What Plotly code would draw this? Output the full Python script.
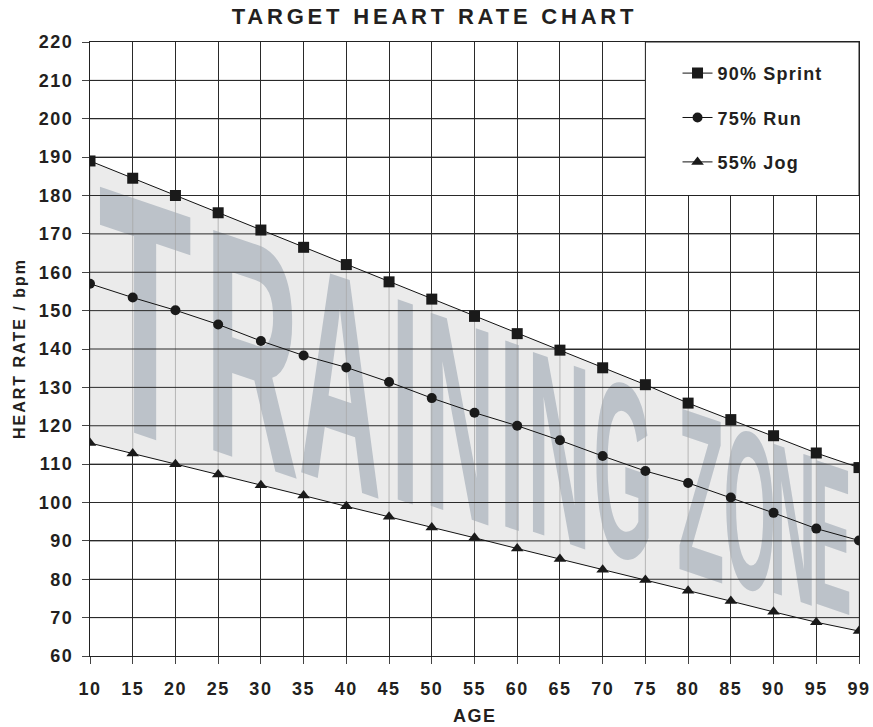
import json
import plotly.graph_objects as go

# ---------------- data ----------------
ages = [10, 15, 20, 25, 30, 35, 40, 45, 50, 55, 60, 65, 70, 75, 80, 85, 90, 95, 99]
sprint_90 = [189, 184.5, 180, 175.5, 171, 166.5, 162, 157.5, 153, 148.5, 144, 139.7, 135.1, 130.7, 125.9, 121.6, 117.4, 112.9, 109.1]
run_75 = [157, 153.4, 150.1, 146.4, 142.1, 138.3, 135.2, 131.4, 127.2, 123.4, 120, 116.2, 112.1, 108.2, 105.1, 101.3, 97.3, 93.2, 90.1]
jog_55 = [115.5, 112.8, 110, 107.3, 104.5, 101.8, 99, 96.3, 93.5, 90.8, 88, 85.3, 82.5, 79.8, 77, 74.3, 71.5, 68.8, 66.5]
y_ticks = [60, 70, 80, 90, 100, 110, 120, 130, 140, 150, 160, 170, 180, 190, 200, 210, 220]
series_names = ["90% Sprint", "75% Run", "55% Jog"]
title_text = "TARGET HEART RATE CHART"
x_title = "AGE"
y_title = "HEART RATE / bpm"
watermark = ["T", "R", "A", "I", "N", "I", "N", "G", "Z", "O", "N", "E"]

# ---------------- style / layout ----------------
W, H = 873, 727
ML, MR, MT = 90, 14, 42
PLOT_W, PLOT_H = 769, 614
MB = H - MT - PLOT_H
YMIN, YMAX = 60, 220
ppu = PLOT_H / (YMAX - YMIN)
INK = "#231f20"
FONT = "Liberation Sans, Arial, sans-serif"


def spaced(s, ls):
    return '<span style="letter-spacing:%spx">%s</span>' % (ls, s)


xs = list(range(len(ages)))
xmax = xs[-1]

# watermark letter layout (decoration): centre positions along the axis,
# fitted into a warped envelope inside the zone
wm_centres = [1.29, 3.79, 5.85, 7.38, 8.65, 9.88, 10.98, 12.48, 14.30, 15.44, 16.45, 17.37]
wm_squeeze = [0.45, 0.41, 0.38, 0.36, 0.35, 0.35, 0.34, 0.31, 0.33, 0.30, 0.30, 0.28]
WM_SHEAR = 0.34


def env_top(i):
    return 185.5 + (109.6 - 185.5) * (i - 0.2) / (17.73 - 0.2)


def env_bot(i):
    return 117.0 + (71.2 - 117.0) * (i - 1.35) / (17.73 - 1.35)


wm_y, wm_size = [], []
for c in wm_centres:
    t, b = env_top(c), env_bot(c)
    hpx = (t - b) * ppu
    fs = hpx / 0.716
    wm_size.append(fs)
    wm_y.append((t + b) / 2 - 0.108 * fs / ppu)

fig = go.Figure()

# training zone fill
fig.add_trace(go.Scatter(
    x=xs + xs[::-1], y=sprint_90 + jog_55[::-1],
    fill="toself", fillcolor="#ebebeb", mode="lines",
    line=dict(width=0), hoverinfo="skip", showlegend=False))

# watermark text
fig.add_trace(go.Scatter(
    x=wm_centres, y=wm_y, mode="text", text=watermark,
    textposition="middle center",
    textfont=dict(family=FONT, size=wm_size, color="#bcc2c9", weight="bold"),
    hoverinfo="skip", showlegend=False))

# faint vertical lines inside the zone
vx, vy = [], []
for i in xs:
    vx += [i, i, None]
    vy += [jog_55[i], sprint_90[i], None]
fig.add_trace(go.Scatter(x=vx, y=vy, mode="lines",
                         line=dict(color="#a8a8a8", width=0.8),
                         hoverinfo="skip", showlegend=False))

# horizontal grid drawn over the zone
hx, hy = [], []
for v in y_ticks[1:-1]:
    hx += [0, xmax, None]
    hy += [v, v, None]
fig.add_trace(go.Scatter(x=hx, y=hy, mode="lines",
                         line=dict(color="#2a2a2a", width=1),
                         hoverinfo="skip", showlegend=False))

symbols = ["square", "circle", "triangle-up"]
sizes = [11, 10, 11]
for k, (name, vals) in enumerate(zip(series_names, [sprint_90, run_75, jog_55])):
    fig.add_trace(go.Scatter(
        x=xs, y=vals, mode="lines+markers", name=spaced(name, 1.2),
        legendgroup="g%d" % k,
        line=dict(color="#111", width=1),
        marker=dict(symbol=symbols[k], size=sizes[k], color="#1a1a1a",
                    line=dict(width=0))))

# white legend box over the grid
fig.add_shape(type="rect", xref="x", yref="y",
              x0=ages.index(75), x1=xmax, y0=180, y1=YMAX,
              fillcolor="white", line=dict(color="#222", width=1), layer="above")

axis_common = dict(showgrid=True, gridcolor="#2a2a2a", gridwidth=1,
                   showline=True, mirror=True, linecolor="#222", linewidth=1,
                   ticks="outside", ticklen=7, tickcolor="#444", zeroline=False,
                   automargin=False,
                   tickfont=dict(family=FONT, size=18, color=INK, weight="bold"))

fig.update_layout(
    width=W, height=H, margin=dict(l=ML, r=MR, t=MT, b=MB, autoexpand=False),
    paper_bgcolor="white", plot_bgcolor="white",
    title=dict(text=spaced(title_text, 3.8), x=434.5 / W, xanchor="center",
               y=1 - 16.7 / H, yanchor="middle",
               font=dict(family=FONT, size=22, color=INK, weight="bold")),
    xaxis=dict(range=[0, xmax], tickvals=xs,
               ticktext=[spaced(str(a), 1.5) for a in ages],
               ticklabelstandoff=9, **axis_common),
    yaxis=dict(range=[YMIN, YMAX], tickvals=y_ticks,
               ticktext=[spaced(str(v), 1.5) for v in y_ticks],
               ticklabelstandoff=5, **axis_common),
    legend=dict(x=0.764, y=0.979, xanchor="left", yanchor="top",
                bgcolor="rgba(0,0,0,0)", borderwidth=0,
                traceorder="grouped", tracegroupgap=18,
                font=dict(family=FONT, size=18, color=INK, weight="bold")),
    showlegend=True,
    annotations=[
        dict(text=spaced(x_title, 1.5), xref="paper", yref="paper",
             x=0.5, y=-(716 - (MT + PLOT_H)) / PLOT_H, xanchor="center",
             yanchor="middle", showarrow=False,
             font=dict(family=FONT, size=18, color=INK, weight="bold")),
        dict(text=spaced(y_title, 2), xref="paper", yref="paper",
             x=-(ML - 19) / PLOT_W, y=0.5, xanchor="center",
             yanchor="middle", textangle=-90, showarrow=False,
             font=dict(family=FONT, size=16, color=INK, weight="bold")),
    ],
)

post = """
document.body.style.margin = '0';
document.body.style.overflow = 'hidden';
var gd = document.getElementById('{plot_id}');
var sq = %s;
var sh = %s;
var tr = gd.querySelectorAll('.scatterlayer .trace')[1];
if (tr) {
  var texts = tr.querySelectorAll('.textpoint text');
  for (var i = 0; i < texts.length; i++) {
    var t = texts[i];
    var x = parseFloat(t.getAttribute('x')), y = parseFloat(t.getAttribute('y'));
    var a = sq[i];
    t.setAttribute('transform', 'translate(' + x + ',' + y + ') matrix(' + a + ',' + (a * sh) +
      ',0,1,0,0) translate(' + (-x) + ',' + (-y) + ')');
  }
}
""" % (json.dumps(wm_squeeze), WM_SHEAR)

fig.write_html("out.html", post_script=post, config={"displayModeBar": False})
